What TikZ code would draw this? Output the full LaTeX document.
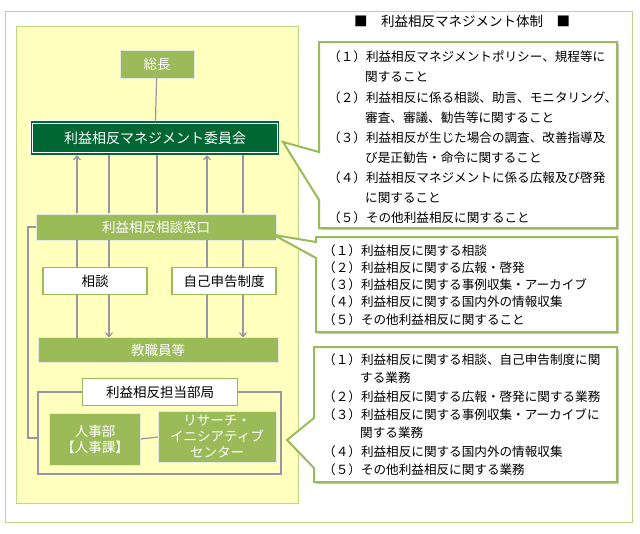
\documentclass[tikz,border=0pt]{standalone}
\usepackage{fontspec}
\setmainfont{Noto Sans CJK JP}
\usetikzlibrary{shadows,arrows.meta}
\definecolor{gr}{RGB}{155,187,89}
\definecolor{dg}{RGB}{0,102,51}
\definecolor{yl}{RGB}{255,255,190}
\definecolor{yb}{RGB}{190,215,130}
\definecolor{ln}{RGB}{150,150,165}
\begin{document}
\begin{tikzpicture}[x=1pt,y=-1pt,
 gbox/.style={fill=gr,draw=gr!80!black!20,text=white,font=\fontsize{13.5}{15}\selectfont},
 wbox/.style={fill=white,draw=gr,line width=1.5pt,font=\fontsize{13.5}{15}\selectfont},
 cl/.style={fill=white,draw=gr,line width=2pt,drop shadow={shadow xshift=2pt,shadow yshift=-2pt,opacity=.4}},
 tx/.style={anchor=west,font=\fontsize{12.6}{14}\selectfont,inner sep=0},
 con/.style={draw=ln,line width=1.2pt},
 arr/.style={con,-{Straight Barb[length=4pt,width=7pt]}}]
\useasboundingbox (0,0) rectangle (640,533);
\draw[draw=yb,line width=1pt,fill=white] (5,11) rectangle (632,522);
\draw[draw=yb,line width=1pt,fill=yl] (16,26) rectangle (298,503);
\node at (462,21) {\fontsize{13.5}{15}\selectfont ■\quad 利益相反マネジメント体制\quad ■};
% left nodes
\node[gbox,minimum width=74,minimum height=28] (pres) at (157,64) {総長};
\node[fill=dg,draw=white,double=dg,double distance=1.5pt,line width=1pt,text=white,minimum width=247,minimum height=32,font=\fontsize{14}{16}\selectfont] (com) at (155,138) {利益相反マネジメント委員会};
\node[gbox,minimum width=240,minimum height=26] (win) at (156,227) {利益相反相談窓口};
\node[wbox,minimum width=104,minimum height=27] (sd) at (95,281) {相談};
\node[wbox,minimum width=104,minimum height=27] (ji) at (224,281) {自己申告制度};
\node[gbox,minimum width=240,minimum height=25] (st) at (158,350) {教職員等};
\draw[con] (38,392) rectangle (281,474);
\node[wbox,minimum width=155,minimum height=27] (bk) at (160,392) {利益相反担当部局};
\node[gbox,minimum width=91,minimum height=52,align=center,font=\fontsize{13.5}{16}\selectfont] (hr) at (95,439) {人事部\\【人事課】};
\node[gbox,minimum width=118,minimum height=51,align=center,font=\fontsize{13.5}{16}\selectfont] (ri) at (217,437) {リサーチ・\\イニシアティブ\\センター};
% connectors
\draw[con] (pres) -- (com);
\draw[arr] (77,213) -- (77,155);
\draw[con] (109,213) -- (109,155);
\draw[con] (157,213) -- (157,155);
\draw[arr] (207,213) -- (207,155);
\draw[con] (243,213) -- (243,155);
\draw[con] (77,240) -- (77,267.5);
\draw[con] (109,240) -- (109,267.5);
\draw[con] (207,240) -- (207,267.5);
\draw[con] (243,240) -- (243,267.5);
\draw[con] (77,294.5) -- (77,337.5);
\draw[arr] (109,294.5) -- (109,337.5);
\draw[con] (207,294.5) -- (207,337.5);
\draw[arr] (243,294.5) -- (243,337.5);
\draw[con] (win.west) -- (28,227) -- (28,438) -- (38,438);
\draw[con] (hr.east) -- (ri.west);
% callouts
\draw[cl] (319,42) -- (617,42) -- (617,228) -- (319,228) -- (319,200) -- (283,142) -- (319,152) -- cycle;
\draw[cl] (316,237) -- (617,237) -- (617,332) -- (316,332) -- (316,258) -- (274,235) -- (316,242) -- cycle;
\draw[cl] (314,347) -- (617,347) -- (617,482) -- (314,482) -- (314,468) -- (287,440) -- (314,418) -- cycle;
% texts
\node[tx] at (328,57) {（１）利益相反マネジメントポリシー、規程等に};
\node[tx] at (365,77) {関すること};
\node[tx] at (328,98) {（２）利益相反に係る相談、助言、モニタリング、};
\node[tx] at (365,118) {審査、審議、勧告等に関すること};
\node[tx] at (328,138) {（３）利益相反が生じた場合の調査、改善指導及};
\node[tx] at (365,158) {び是正勧告・命令に関すること};
\node[tx] at (328,178) {（４）利益相反マネジメントに係る広報及び啓発};
\node[tx] at (365,198) {に関すること};
\node[tx] at (328,218) {（５）その他利益相反に関すること};
\node[tx] at (323,251) {（１）利益相反に関する相談};
\node[tx] at (323,268) {（２）利益相反に関する広報・啓発};
\node[tx] at (323,285) {（３）利益相反に関する事例収集・アーカイブ};
\node[tx] at (323,302) {（４）利益相反に関する国内外の情報収集};
\node[tx] at (323,320) {（５）その他利益相反に関すること};
\node[tx] at (323,360) {（１）利益相反に関する相談、自己申告制度に関};
\node[tx] at (360,378) {する業務};
\node[tx] at (323,397) {（２）利益相反に関する広報・啓発に関する業務};
\node[tx] at (323,415) {（３）利益相反に関する事例収集・アーカイブに};
\node[tx] at (360,433) {関する業務};
\node[tx] at (323,452) {（４）利益相反に関する国内外の情報収集};
\node[tx] at (323,470) {（５）その他利益相反に関する業務};
\end{tikzpicture}
\end{document}
